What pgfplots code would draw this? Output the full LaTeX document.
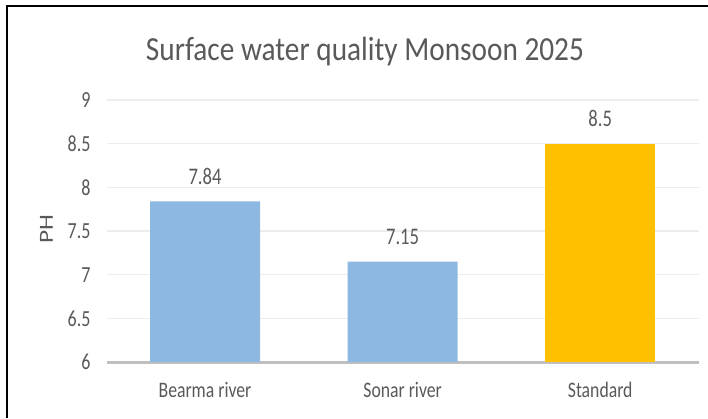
\documentclass[border=0pt]{standalone}
\usepackage{pgfplots}
\pgfplotsset{compat=1.18}
\usepackage{fontspec}
\setmainfont{Carlito}
\definecolor{txt}{HTML}{595959}
\definecolor{barblue}{HTML}{8DB8E2}
\definecolor{bargold}{HTML}{FFC000}
\definecolor{gridc}{HTML}{EDEDED}
\definecolor{basec}{HTML}{BFBFBF}
\begin{document}
\begin{tikzpicture}[x=1pt,y=1pt]
\path[use as bounding box] (0,0) rectangle (708,418);
\draw[black, line width=2.2pt] (7,0) -- (7,412) -- (708,412);
\node[text=txt, font=\fontsize{29.3}{32}\selectfont] at (365,366) {\scalebox{1}[1.15]{Surface water quality Monsoon 2025}};
\node[text=txt, font=\fontsize{20}{22}\selectfont, rotate=90] at (46.5,189) {\scalebox{1.27}[1]{PH}};
\begin{axis}[
  at={(107pt,56pt)}, anchor=south west,
  scale only axis, width=592pt, height=262pt,
  xmin=-0.496, xmax=2.5, ymin=6, ymax=9,
  ytick={6,6.5,...,9},
  xtick={0,1,2}, xticklabels={Bearma river, Sonar river, Standard},
  axis lines*=left,
  x axis line style={color=basec, line width=3pt},
  y axis line style={draw=none},
  major tick length=0pt,
  ymajorgrids, grid style={color=gridc, line width=1.5pt},
  /pgf/number format/assume math mode=true,
  yticklabel style={text=txt, font=\fontsize{18}{20}\selectfont, yscale=1.28, anchor=east, xshift=-13pt},
  xticklabel style={text=txt, font=\fontsize{17.7}{20}\selectfont, yscale=1.25, yshift=-12.5pt},
  ybar, bar width=110pt, bar shift=0pt,
  nodes near coords,
  nodes near coords style={text=txt, font=\fontsize{18.6}{20}\selectfont, yscale=1.28, yshift=9.5pt},
  clip=false,
]
\addplot[fill=barblue, draw=none] coordinates {(0,7.84) (1,7.15)};
\addplot[fill=bargold, draw=none] coordinates {(2,8.5)};
\end{axis}
\end{tikzpicture}
\end{document}
